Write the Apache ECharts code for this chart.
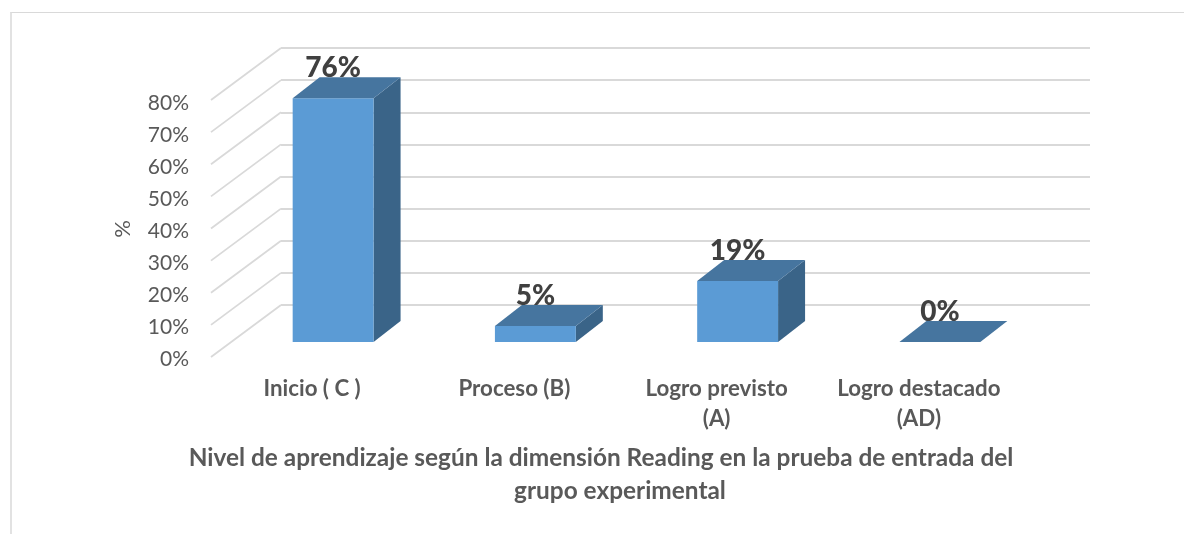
<!DOCTYPE html>
<html>
<head>
<meta charset="utf-8" />
<title>Nivel de aprendizaje</title>
<script src="https://cdn.jsdelivr.net/npm/echarts@6/dist/echarts.min.js"></script>
<style>
  html, body { margin: 0; padding: 0; background: #fff; }
  #frame {
    position: absolute; left: 10px; top: 12px; width: 1174px; height: 522px;
    box-sizing: border-box; border-top: 1px solid #d9d9d9; border-left: 2px solid #e2e2e2;
  }
  #chart { position: absolute; left: 0; top: 0; width: 1184px; height: 534px; }
</style>
</head>
<body>
<div id="frame"></div>
<div id="chart"></div>
<script>
const categories = ["Inicio ( C )", "Proceso (B)", "Logro previsto\n(A)", "Logro destacado\n(AD)"];
const percentValues = [76, 5, 19, 0];
const tickValues = [0, 10, 20, 30, 40, 50, 60, 70, 80];
const titleLines = ["Nivel de aprendizaje según la dimensión Reading en la prueba de entrada del", "grupo experimental"];

const fontName = "Lato, 'Open Sans', sans-serif";
const textColor = "#595959";
const lineColor = "#d9d9d9";

// 3d look: how far the walls and the bars go back
const wallDepth = [70, -52];
const barDepth = [27, -21];
const barRatio = 0.4;

// one grid per plane: 0 = where the bars stand, 1 = axis labels at the front, 2 = back wall
const grids = [
  { left: 232, top: 85.5, width: 809, height: 256.5 },
  { left: 211, top: 103, width: 809, height: 256 },
  { left: 281, top: 48, width: 809, height: 257 },
];

function hiddenY(gridIndex, showLines) {
  return {
    type: "value", gridIndex, min: 0, max: 80, interval: 10,
    axisLine: { show: false }, axisTick: { show: false }, axisLabel: { show: false },
    splitLine: { show: showLines, lineStyle: { color: lineColor, width: 1.8 } },
  };
}

function hiddenX(gridIndex) {
  return {
    type: "category", gridIndex, data: categories,
    axisLine: { show: false }, axisTick: { show: false }, axisLabel: { show: false },
  };
}

function titleLine(text, left, top) {
  return {
    text, left, top,
    textAlign: "center",
    textStyle: { fontFamily: fontName, fontSize: 24.4, fontWeight: "bold", color: textColor },
  };
}

function poly(points, fill) {
  return { type: "polygon", shape: { points }, style: { fill } };
}

function renderBar(params, api) {
  const base = api.coord([api.value(0), 0]);
  const top = api.coord([api.value(0), api.value(1)]);
  const w = api.size([1, 0])[0] * barRatio;
  const l = base[0] - w / 2;
  const r = base[0] + w / 2;
  const dx = barDepth[0];
  const dy = barDepth[1];
  const children = [
    poly([[r, top[1]], [r + dx, top[1] + dy], [r + dx, base[1] + dy], [r, base[1]]], "#3a6488"),
    poly([[l, top[1]], [r, top[1]], [r, base[1]], [l, base[1]]], "#5b9bd5"),
    poly([[l, top[1]], [l + dx, top[1] + dy], [r + dx, top[1] + dy], [r, top[1]]], "#46759f"),
    {
      type: "text",
      style: {
        x: base[0], y: top[1] - 30,
        text: api.value(1) + "%",
        fill: "#404040",
        font: "900 28px " + fontName,
        align: "center", verticalAlign: "middle",
      },
    },
  ];
  return { type: "group", children };
}

// side wall line, from the back wall towards the viewer
function renderWallLine(params, api) {
  const y = api.coord([0, api.value(0)])[1];
  const x = params.coordSys.x;
  return {
    type: "line",
    shape: { x1: x, y1: y, x2: x - wallDepth[0], y2: y - wallDepth[1] },
    style: { stroke: lineColor, lineWidth: 1.8 },
  };
}

const chart = echarts.init(document.getElementById("chart"));
chart.setOption({
  animation: false,
  title: [titleLine(titleLines[0], 596, 441), titleLine(titleLines[1], 615, 474)],
  grid: grids,
  xAxis: [
    hiddenX(0),
    {
      type: "category", gridIndex: 1, data: categories,
      axisLine: { show: false }, axisTick: { show: false },
      axisLabel: {
        interval: 0, margin: 15, lineHeight: 30,
        fontFamily: fontName, fontSize: 22.3, fontWeight: "bold", color: textColor,
      },
    },
    hiddenX(2),
  ],
  yAxis: [
    hiddenY(0, false),
    {
      type: "value", gridIndex: 1, min: 0, max: 80, interval: 10,
      name: "%", nameLocation: "middle", nameGap: 77,
      nameTextStyle: { fontFamily: fontName, fontSize: 22, color: textColor, padding: [0, 0, 0, 4] },
      axisLine: { show: false }, axisTick: { show: false }, splitLine: { show: false },
      axisLabel: { margin: 22, formatter: "{value}%", fontFamily: fontName, fontSize: 21, color: textColor },
    },
    hiddenY(2, true),
  ],
  series: [
    {
      type: "custom", xAxisIndex: 2, yAxisIndex: 2, z: 1, clip: false,
      renderItem: renderWallLine,
      encode: { y: 0 },
      data: tickValues.map((v) => [v]),
    },
    {
      type: "custom", xAxisIndex: 0, yAxisIndex: 0, z: 2, clip: false,
      renderItem: renderBar,
      encode: { x: 0, y: 1 },
      data: percentValues.map((v, i) => [i, v]),
    },
  ],
});
</script>
</body>
</html>
